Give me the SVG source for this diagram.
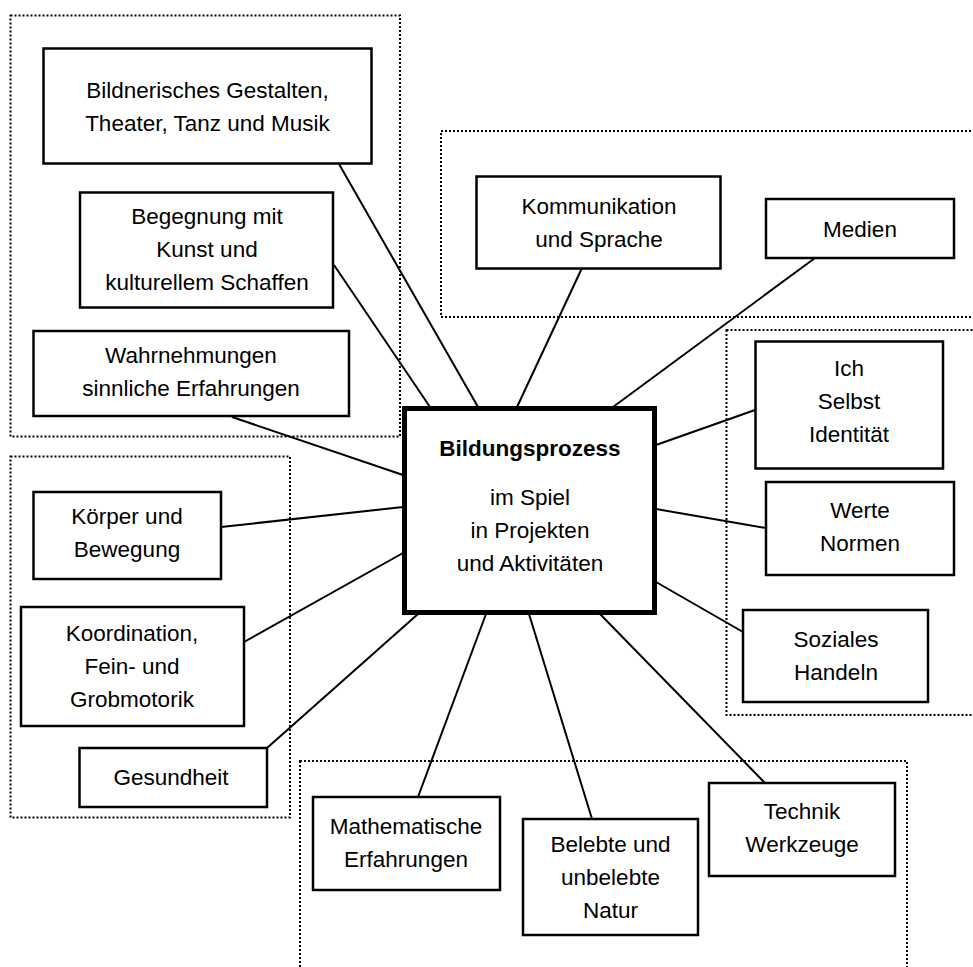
<svg xmlns="http://www.w3.org/2000/svg" width="973" height="967" viewBox="0 0 973 967">
<style>
.grp{fill:none;stroke:#000;stroke-width:2;stroke-dasharray:2 2}
.box{fill:#fff;stroke:#000;stroke-width:2.5}
.main{fill:#fff;stroke:#000;stroke-width:5}
.con line{stroke:#000;stroke-width:2}
text{font-family:"Liberation Sans",Arial,sans-serif;font-size:22.5px;text-anchor:middle;fill:#000}
.b{font-weight:bold}
</style>
<rect width="973" height="967" fill="#fff"/>
<g id="groups">
<rect class="grp" x="10.5" y="15.5" width="389.5" height="421"/>
<rect class="grp" x="441" y="131" width="560" height="186"/>
<rect class="grp" x="726.5" y="330" width="280" height="385"/>
<rect class="grp" x="10.5" y="456.5" width="279.5" height="361"/>
<rect class="grp" x="300" y="761" width="607" height="240"/>
</g>
<g id="connectors" class="con">
<line x1="339" y1="164" x2="478" y2="407"/>
<line x1="334" y1="265" x2="430" y2="407"/>
<line x1="232" y1="417" x2="403" y2="475"/>
<line x1="582" y1="268" x2="517" y2="407"/>
<line x1="815" y1="258" x2="613" y2="407"/>
<line x1="656" y1="445" x2="755" y2="410"/>
<line x1="656" y1="509" x2="766" y2="528"/>
<line x1="656" y1="582" x2="743" y2="632"/>
<line x1="600" y1="614" x2="765" y2="783"/>
<line x1="529" y1="614" x2="592" y2="819"/>
<line x1="486" y1="614" x2="418" y2="797"/>
<line x1="267" y1="748" x2="418" y2="614"/>
<line x1="244" y1="642" x2="403" y2="553"/>
<line x1="221" y1="527" x2="403" y2="507"/>
</g>
<g id="center">
<rect class="main" x="404.5" y="408.5" width="250" height="204"/>
<text class="b" x="530" y="456">Bildungsprozess</text>
<text x="530" y="505">im Spiel</text>
<text x="530" y="538">in Projekten</text>
<text x="530" y="571">und Aktivitäten</text>
</g>
<g id="bildnerisches">
<rect class="box" x="43.5" y="48.5" width="328" height="115"/>
<text x="207.5" y="98">Bildnerisches Gestalten,</text>
<text x="207.5" y="131">Theater, Tanz und Musik</text>
</g>
<g id="begegnung">
<rect class="box" x="80" y="192.5" width="253" height="115"/>
<text x="207" y="224">Begegnung mit</text>
<text x="207" y="257">Kunst und</text>
<text x="207" y="290">kulturellem Schaffen</text>
</g>
<g id="wahrnehmungen">
<rect class="box" x="33.5" y="331" width="315.5" height="85"/>
<text x="191" y="363">Wahrnehmungen</text>
<text x="191" y="396">sinnliche Erfahrungen</text>
</g>
<g id="kommunikation">
<rect class="box" x="476.5" y="176.5" width="244" height="92"/>
<text x="599" y="214">Kommunikation</text>
<text x="599" y="247">und Sprache</text>
</g>
<g id="medien">
<rect class="box" x="766" y="199" width="188" height="59"/>
<text x="860" y="237">Medien</text>
</g>
<g id="ich">
<rect class="box" x="755.5" y="341.5" width="187.5" height="127"/>
<text x="849" y="376">Ich</text>
<text x="849" y="409">Selbst</text>
<text x="849" y="442">Identität</text>
</g>
<g id="werte">
<rect class="box" x="766" y="482" width="188" height="93"/>
<text x="860" y="518">Werte</text>
<text x="860" y="551">Normen</text>
</g>
<g id="soziales">
<rect class="box" x="743" y="610" width="185" height="92"/>
<text x="836" y="647">Soziales</text>
<text x="836" y="680">Handeln</text>
</g>
<g id="koerper">
<rect class="box" x="33.5" y="492" width="187.5" height="87"/>
<text x="127" y="524">Körper und</text>
<text x="127" y="557">Bewegung</text>
</g>
<g id="koordination">
<rect class="box" x="21" y="607" width="223" height="119"/>
<text x="132" y="641">Koordination,</text>
<text x="132" y="674">Fein- und</text>
<text x="132" y="707">Grobmotorik</text>
</g>
<g id="gesundheit">
<rect class="box" x="79.5" y="748" width="187.5" height="59"/>
<text x="171" y="785">Gesundheit</text>
</g>
<g id="mathematische">
<rect class="box" x="313" y="797" width="187" height="93"/>
<text x="406" y="834">Mathematische</text>
<text x="406" y="867">Erfahrungen</text>
</g>
<g id="belebte">
<rect class="box" x="523" y="819" width="175" height="116"/>
<text x="610.5" y="852">Belebte und</text>
<text x="610.5" y="885">unbelebte</text>
<text x="610.5" y="918">Natur</text>
</g>
<g id="technik">
<rect class="box" x="709" y="783" width="186" height="93"/>
<text x="802" y="819">Technik</text>
<text x="802" y="852">Werkzeuge</text>
</g>
</svg>
